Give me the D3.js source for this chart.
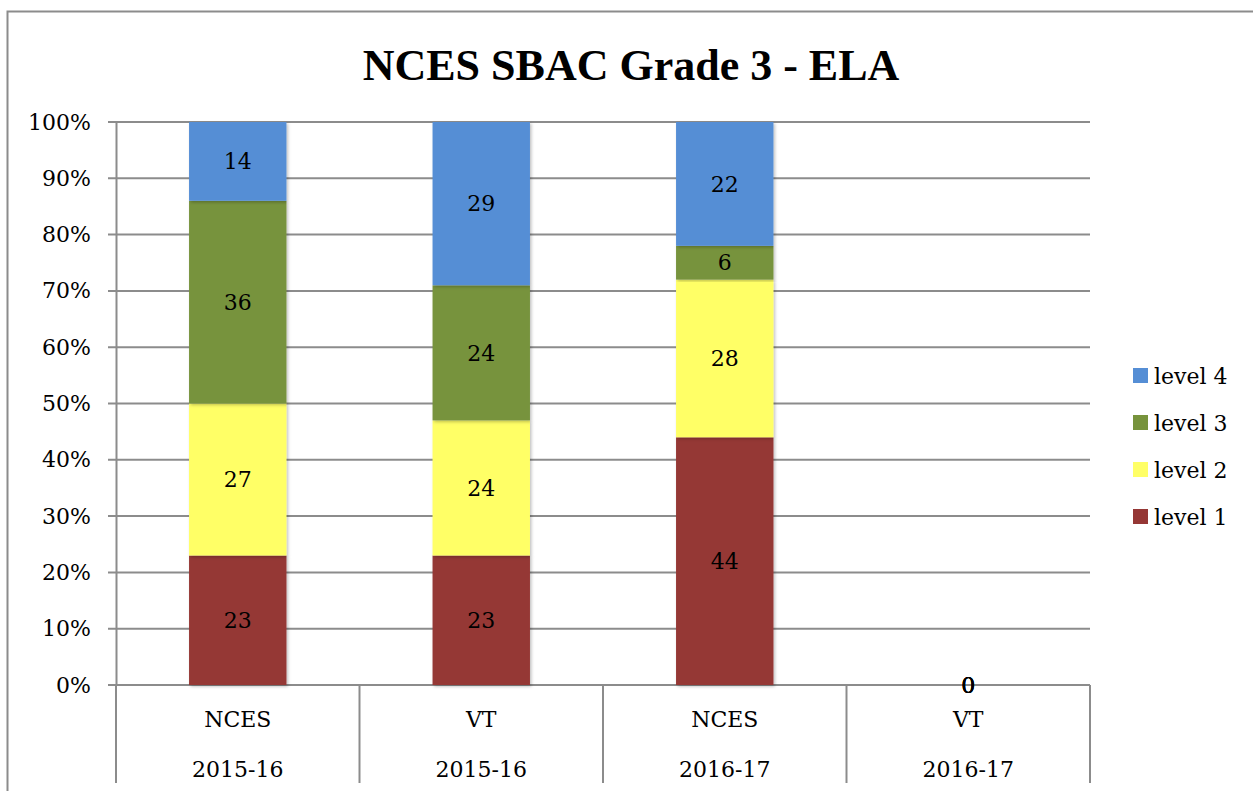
<!DOCTYPE html>
<html>
<head>
<meta charset="utf-8">
<script src="https://cdn.jsdelivr.net/npm/d3@7"></script>
<style>
  body { margin: 0; background: #fff; }
  text { font-family: "DejaVu Serif", "Liberation Serif", serif; fill: #000; }
</style>
</head>
<body>
<svg id="chart" width="1253" height="791"></svg>
<script>
const schools = ["NCES", "VT", "NCES", "VT"];
const years = ["2015-16", "2015-16", "2016-17", "2016-17"];
const levels = ["level 1", "level 2", "level 3", "level 4"];
const level1 = [23, 23, 44, 0];
const level2 = [27, 24, 28, 0];
const level3 = [36, 24, 6, 0];
const level4 = [14, 29, 22, 0];
const yTicks = [0, 10, 20, 30, 40, 50, 60, 70, 80, 90, 100];
const colors = ["#953735", "#ffff66", "#77933c", "#558ed5"];

const width = 1253;
const height = 791;
const margin = { top: 122, right: 163, bottom: 106, left: 116 };
const fs = "22px";

const rows = schools.map((s, i) => ({
  key: i,
  school: s,
  year: years[i],
  "level 1": level1[i],
  "level 2": level2[i],
  "level 3": level3[i],
  "level 4": level4[i],
}));

const svg = d3.select("#chart");

// outer frame
svg.append("rect")
  .attr("x", 7.5).attr("y", 11.5)
  .attr("width", 1270).attr("height", 800)
  .attr("fill", "none")
  .attr("stroke", "#8c8c8c")
  .attr("stroke-width", 2);

const x = d3.scaleBand()
  .domain(rows.map(d => d.key))
  .range([margin.left, width - margin.right])
  .padding(0);

const y = d3.scaleLinear()
  .domain([0, 100])
  .range([height - margin.bottom, margin.top]);

const barW = x.bandwidth() * 0.4;

// gridlines
svg.append("g")
  .selectAll("line")
  .data(yTicks)
  .join("line")
  .attr("x1", margin.left - 8)
  .attr("x2", width - margin.right)
  .attr("y1", d => y(d))
  .attr("y2", d => y(d))
  .attr("stroke", "#8c8c8c")
  .attr("stroke-width", 2);

// y axis
const yAxis = svg.append("g")
  .attr("transform", `translate(${margin.left},0)`)
  .call(d3.axisLeft(y).tickValues(yTicks).tickSize(0).tickPadding(25)
    .tickFormat(d => d + "%"));
yAxis.select(".domain").attr("stroke", "#8c8c8c").attr("stroke-width", 2);
yAxis.selectAll("text").style("font-size", fs).style("font-family", "DejaVu Serif");

// vertical category lines
const bounds = rows.map(d => x(d.key)).concat([width - margin.right]);
svg.append("g")
  .selectAll("line")
  .data(bounds)
  .join("line")
  .attr("x1", d => d).attr("x2", d => d)
  .attr("y1", y(0))
  .attr("y2", y(0) + 98)
  .attr("stroke", "#8c8c8c")
  .attr("stroke-width", 2);

// stacked bars
const stack = d3.stack().keys(levels)(rows);

const defs = svg.append("defs");
const f = defs.append("filter").attr("id", "shadow")
  .attr("x", "-10%").attr("y", "-5%").attr("width", "130%").attr("height", "110%");
f.append("feDropShadow").attr("dx", 1.5).attr("dy", 1.5).attr("stdDeviation", 1.5)
  .attr("flood-color", "#000").attr("flood-opacity", 0.25);

const layers = svg.append("g").attr("class", "bars");
layers.selectAll("g")
  .data(stack)
  .join("g")
  .attr("fill", (d, i) => colors[i])
  .selectAll("rect")
  .data(d => d)
  .join("rect")
  .attr("x", d => x(d.data.key) + (x.bandwidth() - barW) / 2)
  .attr("y", d => y(d[1]))
  .attr("width", barW)
  .attr("height", d => y(d[0]) - y(d[1]))
  .attr("filter", "url(#shadow)");

// value labels
const labels = svg.append("g");
stack.forEach(layer => {
  labels.selectAll(null)
    .data(layer)
    .join("text")
    .attr("x", d => x(d.data.key) + x.bandwidth() / 2)
    .attr("y", d => y((d[0] + d[1]) / 2))
    .attr("dy", "0.35em")
    .attr("text-anchor", "middle")
    .style("font-size", fs)
    .text(d => d[1] - d[0]);
});

// category labels
const cats = svg.append("g");
cats.selectAll(".school")
  .data(rows)
  .join("text")
  .attr("class", "school")
  .attr("x", d => x(d.key) + x.bandwidth() / 2)
  .attr("y", y(0) + 34)
  .attr("dy", "0.35em")
  .attr("text-anchor", "middle")
  .style("font-size", fs)
  .text(d => d.school);
cats.selectAll(".year")
  .data(rows)
  .join("text")
  .attr("class", "year")
  .attr("x", d => x(d.key) + x.bandwidth() / 2)
  .attr("y", y(0) + 84)
  .attr("dy", "0.35em")
  .attr("text-anchor", "middle")
  .style("font-size", fs)
  .text(d => d.year);

// title
svg.append("text")
  .attr("x", 631)
  .attr("y", 80)
  .attr("text-anchor", "middle")
  .style("font-family", "Liberation Serif")
  .style("font-size", "44px")
  .style("font-weight", "bold")
  .text("NCES SBAC Grade 3 - ELA");

// legend
const legend = svg.append("g")
  .selectAll("g")
  .data(levels.slice().reverse())
  .join("g")
  .attr("transform", (d, i) => `translate(1133, ${376 + i * 47})`);
legend.append("rect")
  .attr("x", 0).attr("y", -8)
  .attr("width", 15).attr("height", 15)
  .attr("fill", d => colors[levels.indexOf(d)]);
legend.append("text")
  .attr("x", 21)
  .attr("y", 0)
  .attr("dy", "0.35em")
  .style("font-size", fs)
  .text(d => d);
</script>
</body>
</html>
